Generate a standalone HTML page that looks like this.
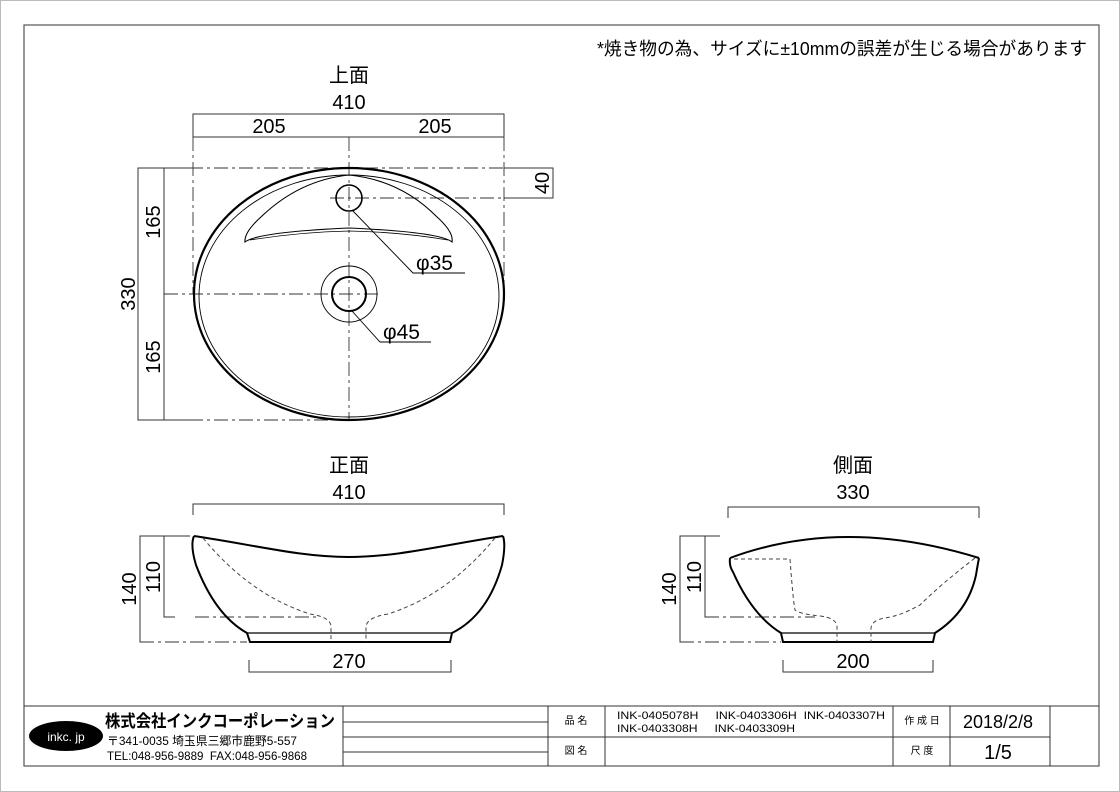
<!DOCTYPE html>
<html><head><meta charset="utf-8"><style>
html,body{margin:0;padding:0;background:#fff;}
svg{display:block;}
text{font-family:"Liberation Sans","Noto Sans CJK JP",sans-serif;fill:#000;white-space:pre;}
</style></head><body>
<svg width="1120" height="792" viewBox="0 0 1120 792" xmlns="http://www.w3.org/2000/svg">
<rect x="0.5" y="0.5" width="1119" height="791" fill="none" stroke="#bbb"/>
<rect x="24" y="25" width="1075" height="741" fill="none" stroke="#555" stroke-width="1.2"/>
<text x="1087" y="55" font-size="18" text-anchor="end" textLength="490" lengthAdjust="spacingAndGlyphs">*焼き物の為、サイズに±10mmの誤差が生じる場合があります</text>

<!-- TOP VIEW -->
<text x="349" y="82" font-size="20" text-anchor="middle">上面</text>
<text x="349" y="109" font-size="20" text-anchor="middle">410</text>
<text x="269" y="133" font-size="20" text-anchor="middle">205</text>
<text x="435" y="133" font-size="20" text-anchor="middle">205</text>
<g stroke="#333" stroke-width="1" fill="none">
<polyline points="193,137 193,114 504,114 504,137"/>
<line x1="193" y1="137" x2="504" y2="137"/>
<polyline points="190,168 138,168 138,420 190,420"/>
<line x1="164" y1="168" x2="164" y2="420"/>
<polyline points="504,168 553,168 553,198 504,198"/>
</g>
<g stroke="#333" stroke-width="0.9" fill="none" stroke-dasharray="14,4,3,4">
<line x1="349" y1="137" x2="349" y2="420"/>
<line x1="164" y1="294" x2="382" y2="294"/>
<line x1="164" y1="168" x2="553" y2="168"/>
<line x1="330" y1="198" x2="553" y2="198"/>
<line x1="193" y1="137" x2="193" y2="294"/>
<line x1="504" y1="137" x2="504" y2="294"/>
<line x1="164" y1="420" x2="330" y2="420"/>
</g>
<g fill="none" stroke="#000">
<ellipse cx="349" cy="294" rx="155" ry="126" stroke-width="2.2"/>
<ellipse cx="349" cy="296" rx="150" ry="121" stroke-width="0.9"/>
<path d="M245,242 Q244,232 262,216 Q300,180 349,175 Q400,180 436,216 Q454,232 452,242 Q440,232 349,228 Q258,232 245,242 Z" stroke-width="1.1"/>
<path d="M250,240 Q300,232 349,231 Q400,232 448,240" stroke-width="0.8"/>
<circle cx="349" cy="198" r="13" stroke-width="1.6"/>
<circle cx="349" cy="294" r="17" stroke-width="2"/>
<circle cx="349" cy="294" r="28" stroke-width="0.9"/>
<polyline points="352,210 413,273 465,273" stroke-width="0.9"/>
<polyline points="352,311 380,342 431,342" stroke-width="0.9"/>
</g>
<text x="416" y="270" font-size="21">φ35</text>
<text x="383" y="339" font-size="21">φ45</text>
<text transform="translate(135,294) rotate(-90)" font-size="20" text-anchor="middle">330</text>
<text transform="translate(160,222) rotate(-90)" font-size="20" text-anchor="middle">165</text>
<text transform="translate(160,357) rotate(-90)" font-size="20" text-anchor="middle">165</text>
<text transform="translate(549,183) rotate(-90)" font-size="20" text-anchor="middle">40</text>

<!-- FRONT VIEW -->
<text x="349" y="472" font-size="20" text-anchor="middle">正面</text>
<text x="349" y="499" font-size="20" text-anchor="middle">410</text>
<g stroke="#333" stroke-width="1" fill="none">
<polyline points="193,515 193,504 504,504 504,515"/>
<polyline points="190,536 140,536 140,642 150,642"/>
<polyline points="180,536 164,536 164,617 175,617"/>
<polyline points="249,660 249,672 451,672 451,660"/>
</g>
<g stroke="#333" stroke-width="0.9" fill="none" stroke-dasharray="14,4,3,4">
<line x1="195" y1="617" x2="318" y2="617"/>
<line x1="140" y1="642" x2="247" y2="642"/>
</g>
<g fill="none" stroke="#000" stroke-width="2">
<path d="M194,536 C255,545 300,557 349,557 C398,557 443,545 503,536"/>
<path d="M194,536 Q190,545 196,565 Q215,615 247,633 L250,642 L450,642 L452,633 Q488,615 502,565 Q506,545 503,536"/>
<line x1="247" y1="633" x2="452" y2="633" stroke-width="1.2"/>
</g>
<g fill="none" stroke="#444" stroke-width="1" stroke-dasharray="4,3">
<path d="M203,538 Q250,595 310,614 Q330,617 331,626 L331,642"/>
<path d="M495,538 Q448,595 388,614 Q368,617 366,626 L366,642"/>
</g>
<text x="349" y="668" font-size="20" text-anchor="middle">270</text>
<text transform="translate(136,589) rotate(-90)" font-size="20" text-anchor="middle">140</text>
<text transform="translate(160,577) rotate(-90)" font-size="20" text-anchor="middle">110</text>

<!-- SIDE VIEW -->
<text x="853" y="472" font-size="20" text-anchor="middle">側面</text>
<text x="853" y="499" font-size="20" text-anchor="middle">330</text>
<g stroke="#333" stroke-width="1" fill="none">
<polyline points="728,518 728,507 979,507 979,518"/>
<polyline points="720,536 680,536 680,642 690,642"/>
<polyline points="715,536 705,536 705,617 715,617"/>
<polyline points="783,660 783,672 933,672 933,660"/>
</g>
<g stroke="#333" stroke-width="0.9" fill="none" stroke-dasharray="14,4,3,4">
<line x1="705" y1="617" x2="815" y2="617"/>
<line x1="680" y1="642" x2="781" y2="642"/>
</g>
<g fill="none" stroke="#000" stroke-width="2">
<path d="M730,558 Q843,516 979,558"/>
<path d="M730,558 Q729,566 733,572 Q752,615 781,633 L783,642 L933,642 L935,633 Q968,612 976,575 Q978,563 979,558"/>
<line x1="781" y1="633" x2="935" y2="633" stroke-width="1.2"/>
</g>
<g fill="none" stroke="#444" stroke-width="1" stroke-dasharray="4,3">
<path d="M734,559 L790,559 Q793,600 795,610 Q800,614 820,616 Q836,618 837,626 L837,642"/>
<path d="M975,558 Q940,585 920,605 Q900,616 885,618 Q872,620 871,628 L871,642"/>
</g>
<text x="853" y="668" font-size="20" text-anchor="middle">200</text>
<text transform="translate(676,589) rotate(-90)" font-size="20" text-anchor="middle">140</text>
<text transform="translate(701,577) rotate(-90)" font-size="20" text-anchor="middle">110</text>

<!-- TITLE BLOCK -->
<g stroke="#333" stroke-width="1" fill="none">
<line x1="24" y1="706" x2="1099" y2="706"/>
<line x1="343" y1="706" x2="343" y2="766"/>
<line x1="343" y1="722" x2="548" y2="722"/>
<line x1="343" y1="737" x2="893" y2="737"/>
<line x1="343" y1="752" x2="548" y2="752"/>
<line x1="548" y1="706" x2="548" y2="766"/>
<line x1="605" y1="706" x2="605" y2="766"/>
<line x1="893" y1="706" x2="893" y2="766"/>
<line x1="950" y1="706" x2="950" y2="766"/>
<line x1="1050" y1="706" x2="1050" y2="766"/>
<line x1="893" y1="737" x2="1050" y2="737"/>
</g>
<ellipse cx="66" cy="736" rx="37" ry="15" fill="#000"/>
<text x="66" y="741" font-size="12" text-anchor="middle" style="fill:#fff">inkc. jp</text>
<text x="105" y="727" font-size="17" font-weight="bold" textLength="230" lengthAdjust="spacingAndGlyphs">株式会社インクコーポレーション</text>
<text x="107" y="745" font-size="12" textLength="190" lengthAdjust="spacingAndGlyphs">〒341-0035 埼玉県三郷市鹿野5-557</text>
<text x="107" y="760" font-size="12" textLength="200" lengthAdjust="spacingAndGlyphs">TEL:048-956-9889  FAX:048-956-9868</text>
<text x="576" y="724" font-size="10" text-anchor="middle">品 名</text>
<text x="576" y="754" font-size="10" text-anchor="middle">図 名</text>
<text x="617" y="719" font-size="11" textLength="268" lengthAdjust="spacingAndGlyphs">INK-0405078H     INK-0403306H  INK-0403307H</text>
<text x="617" y="732" font-size="11" textLength="178" lengthAdjust="spacingAndGlyphs">INK-0403308H     INK-0403309H</text>
<text x="922" y="724" font-size="10" text-anchor="middle">作 成 日</text>
<text x="922" y="754" font-size="10" text-anchor="middle">尺 度</text>
<text x="998" y="728" font-size="18" text-anchor="middle">2018/2/8</text>
<text x="998" y="759" font-size="20" text-anchor="middle">1/5</text>
</svg>
</body></html>
